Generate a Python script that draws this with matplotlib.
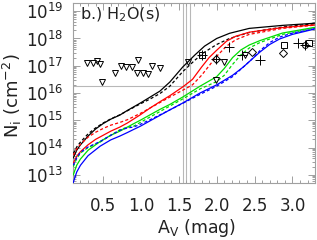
import numpy as np
import matplotlib
matplotlib.use("Agg")
import matplotlib.pyplot as plt
from matplotlib.ticker import LogLocator, MultipleLocator, FixedLocator

# model curves: A_V (mag) and log10 N (cm^-2)
av_black = [0.105, 0.15, 0.2, 0.3, 0.4, 0.5, 0.6, 0.72, 0.82, 0.99, 1.12, 1.25, 1.38, 1.55, 1.71, 1.84, 2.0, 2.17, 2.43, 2.87, 3.3]
logn_black = [13.62, 13.9, 14.1, 14.42, 14.68, 14.88, 15.04, 15.19, 15.36, 15.63, 15.85, 16.07, 16.4, 16.95, 17.39, 17.72, 18.0, 18.19, 18.37, 18.48, 18.56]
logn_black_d = [13.78, 14.02, 14.2, 14.5, 14.72, 14.9, 15.05, 15.2, 15.35, 15.6, 15.78, 15.98, 16.25, 16.78, 17.2, 17.5, 17.78, 18.0, 18.22, 18.42, 18.54]

av_red = [0.105, 0.15, 0.2, 0.3, 0.4, 0.5, 0.6, 0.72, 0.82, 0.99, 1.12, 1.25, 1.38, 1.55, 1.68, 1.8, 1.9, 2.0, 2.13, 2.25, 2.43, 2.87, 3.3]
logn_red = [13.43, 13.68, 13.85, 14.1, 14.3, 14.45, 14.6, 14.75, 14.9, 15.2, 15.45, 15.68, 15.9, 16.22, 16.5, 16.95, 17.3, 17.57, 17.9, 18.08, 18.23, 18.4, 18.5]
logn_red_d = [13.72, 13.95, 14.12, 14.38, 14.56, 14.7, 14.82, 14.92, 15.02, 15.25, 15.45, 15.65, 15.85, 16.1, 16.3, 16.65, 17.0, 17.35, 17.72, 17.95, 18.15, 18.37, 18.49]

av_green = [0.105, 0.15, 0.2, 0.3, 0.46, 0.6, 0.72, 0.82, 0.9, 0.99, 1.12, 1.25, 1.38, 1.55, 1.78, 2.0, 2.1, 2.21, 2.32, 2.43, 2.57, 2.87, 3.3]
logn_green = [13.0, 13.35, 13.58, 13.9, 14.22, 14.45, 14.6, 14.75, 14.87, 15.0, 15.2, 15.4, 15.58, 15.85, 16.25, 16.6, 16.9, 17.3, 17.58, 17.76, 17.92, 18.2, 18.41]
logn_green_d = [13.3, 13.6, 13.8, 14.0, 14.2, 14.45, 14.65, 14.75, 14.78, 14.92, 15.12, 15.32, 15.52, 15.78, 16.15, 16.42, 16.65, 17.05, 17.4, 17.65, 17.85, 18.15, 18.38]

av_blue = [0.105, 0.15, 0.2, 0.3, 0.46, 0.6, 0.72, 0.82, 0.9, 0.99, 1.12, 1.25, 1.38, 1.55, 1.78, 2.0, 2.21, 2.35, 2.45, 2.57, 2.7, 2.83, 3.0, 3.3]
logn_blue = [12.72, 13.1, 13.35, 13.7, 14.05, 14.28, 14.42, 14.55, 14.66, 14.78, 14.98, 15.18, 15.38, 15.63, 16.0, 16.3, 16.65, 16.95, 17.2, 17.5, 17.78, 17.98, 18.15, 18.35]
logn_blue_d = [13.35, 13.62, 13.82, 14.02, 14.22, 14.45, 14.63, 14.72, 14.75, 14.85, 15.02, 15.2, 15.38, 15.62, 15.95, 16.25, 16.6, 16.95, 17.2, 17.55, 17.85, 18.05, 18.2, 18.36]

# observations
av_lim = [0.29, 0.37, 0.42, 0.46, 0.49, 0.66, 0.74, 0.80, 0.88, 0.96, 0.95, 1.03, 1.09, 1.14, 1.25, 1.62, 1.99, 2.10, 2.37]
logn_lim = [17.10, 17.10, 17.17, 17.06, 16.40, 16.73, 16.99, 16.95, 16.95, 17.21, 16.73, 16.73, 16.69, 16.99, 16.91, 17.13, 16.47, 17.13, 17.39]

av_plus = [1.80, 1.99, 2.16, 2.34, 2.57, 3.08, 3.16]
logn_plus = [17.39, 17.24, 17.70, 17.39, 17.20, 17.83, 17.75]
av_square = [1.80, 2.89, 3.22]
logn_square = [17.39, 17.75, 17.83]
av_diamond = [1.99, 2.46, 2.87]
logn_diamond = [17.24, 17.50, 17.46]
av_circle = [3.16]
logn_circle = [17.75]

av_vlines = [1.55, 1.60, 1.65]
n_hline = 1.8e16

plt.rcParams['font.family'] = 'DejaVu Sans'
fig = plt.figure(figsize=(3.17, 2.40), dpi=100)
ax = fig.add_axes([0.230, 0.2375, 0.764, 0.75])

for x in av_vlines:
    ax.axvline(x, color='#b8b8b8', lw=0.8, zorder=1)
ax.axhline(n_hline, color='#b8b8b8', lw=0.8, zorder=1)

curves = [(av_black, logn_black, logn_black_d, 'black'),
          (av_red, logn_red, logn_red_d, '#ff0000'),
          (av_green, logn_green, logn_green_d, '#00dd00'),
          (av_blue, logn_blue, logn_blue_d, '#0000ff')]
for av, ln, lnd, c in curves:
    ax.plot(av, 10 ** np.array(ln), color=c, lw=0.9, zorder=3)
    ax.plot(av, 10 ** np.array(lnd), color=c, lw=0.9, dashes=(2.5, 1.8), zorder=3)

ms = dict(mfc='none', mec='black', mew=0.7, ls='none', zorder=4)
ax.plot(av_lim, 10 ** np.array(logn_lim), marker='v', ms=5, **ms)
ax.plot(av_plus, 10 ** np.array(logn_plus), marker='+', ms=6.5, **ms)
ax.plot(av_square, 10 ** np.array(logn_square), marker='s', ms=5, **ms)
ax.plot(av_diamond, 10 ** np.array(logn_diamond), marker='D', ms=4.2, **ms)
ax.plot(av_circle, 10 ** np.array(logn_circle), marker='o', ms=4.2, **ms)

ax.set_yscale('log')
ax.set_xlim(0.1, 3.3)
ax.set_ylim(5e12, 2e19)
ax.xaxis.set_major_locator(FixedLocator([0.5, 1.0, 1.5, 2.0, 2.5, 3.0]))
ax.xaxis.set_minor_locator(MultipleLocator(0.1))
ax.set_xticklabels(['0.5', '1.0', '1.5', '2.0', '2.5', '3.0'])
ax.yaxis.set_major_locator(LogLocator(base=10, numticks=20))
ax.yaxis.set_minor_locator(LogLocator(base=10, subs=np.arange(2, 10), numticks=20))

for s in ax.spines.values():
    s.set_color('#a0a0a0')
    s.set_linewidth(0.8)
ax.tick_params(which='both', direction='in', top=True, right=True, color='#a0a0a0',
               labelsize=12, labelcolor='#222222', width=0.7)
ax.tick_params(which='major', length=5)
ax.tick_params(which='minor', length=2.5)
ax.tick_params(axis='x', pad=10)
ax.tick_params(axis='y', pad=7)

fig.text(0.62, 1 - 228 / 240, r'A$_\mathrm{V}$ (mag)', fontsize=12.5, color='#222222',
         ha='center', va='center')
fig.text(12 / 317, 0.6, r'N$_\mathrm{i}$ (cm$^{-2}$)', fontsize=13, color='#222222',
         ha='center', va='center', rotation=90)
ax.text(0.03, 0.935, r'b.) H$_2$O(s)', transform=ax.transAxes, fontsize=11.5,
        color='#222222', va='center', ha='left')

fig.savefig('out.png', dpi=100)
